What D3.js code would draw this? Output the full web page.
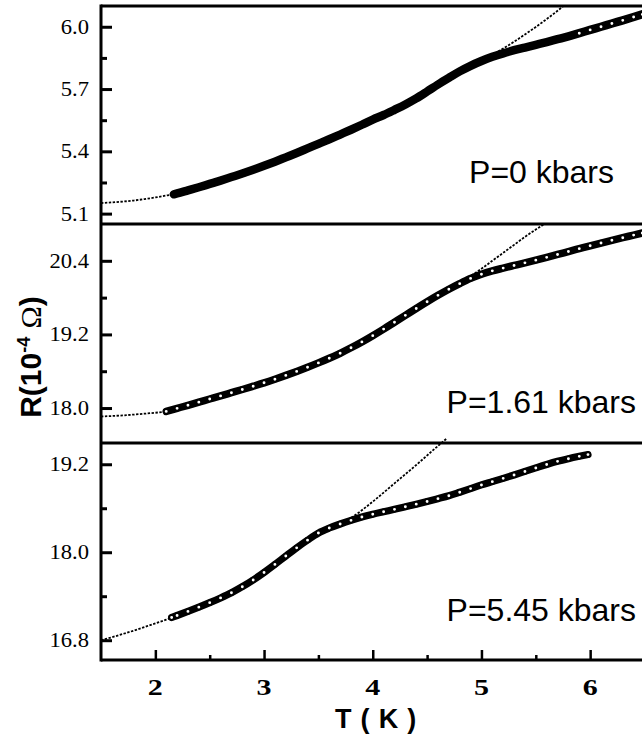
<!DOCTYPE html>
<html><head><meta charset="utf-8">
<script src="https://cdn.jsdelivr.net/npm/d3@7"></script>
<style>body{margin:0;background:#fff}svg{display:block}</style>
</head><body><svg id="c" width="642" height="739"></svg>
<script>
// ---------------- data ----------------
const xDomain = [1.5, 6.5];
const xMajor = [2, 3, 4, 5, 6];
const xMinor = [2.5, 3.5, 4.5, 5.5];

const panelLabels = ["P=0 kbars", "P=1.61 kbars", "P=5.45 kbars"];

// P = 0 kbars
const domTop = [5.05, 6.1];
const yMajorTop = [5.1, 5.4, 5.7, 6.0];
const yMinorTop = [5.25, 5.55, 5.85];
const dataTop = [[2.17,5.193],[2.2,5.197],[2.3,5.212],[2.4,5.227],[2.5,5.243],[2.6,5.259],[2.7,5.276],[2.8,5.293],[2.9,5.311],[3.0,5.330],[3.1,5.350],[3.2,5.371],[3.3,5.392],[3.4,5.414],[3.5,5.436],[3.6,5.458],[3.7,5.481],[3.8,5.504],[3.9,5.528],[4.0,5.553],[4.1,5.575],[4.2,5.600],[4.3,5.626],[4.4,5.655],[4.5,5.688],[4.6,5.722],[4.7,5.754],[4.8,5.785],[4.9,5.812],[5.0,5.835],[5.1,5.855],[5.2,5.872],[5.3,5.887],[5.4,5.900],[5.5,5.913],[5.6,5.926],[5.7,5.940],[5.8,5.954],[5.9,5.969],[6.0,5.985],[6.1,6.000],[6.2,6.016],[6.3,6.031],[6.4,6.047],[6.48,6.060]];
const fitTop = [[1.5,5.151],[1.6,5.154],[1.7,5.158],[1.8,5.163],[1.9,5.170],[2.0,5.178],[2.1,5.187],[2.2,5.197],[2.5,5.243],[3.0,5.330],[3.5,5.436],[4.0,5.553],[4.5,5.688],[4.8,5.785],[5.0,5.838],[5.1,5.864],[5.2,5.895],[5.3,5.928],[5.4,5.963],[5.5,5.999],[5.6,6.037],[5.7,6.077],[5.75,6.098]];

// P = 1.61 kbars
const domMid = [17.43, 21.0];
const yMajorMid = [18.0, 19.2, 20.4];
const yMinorMid = [18.6, 19.8];
const dataMid = [[2.1,17.945],[2.2,17.995],[2.3,18.045],[2.4,18.096],[2.5,18.147],[2.6,18.198],[2.7,18.250],[2.8,18.302],[2.9,18.356],[3.0,18.411],[3.1,18.470],[3.2,18.532],[3.3,18.597],[3.4,18.665],[3.5,18.736],[3.6,18.811],[3.7,18.893],[3.8,18.982],[3.9,19.078],[4.0,19.180],[4.1,19.287],[4.2,19.399],[4.3,19.511],[4.4,19.623],[4.5,19.732],[4.6,19.837],[4.7,19.936],[4.8,20.028],[4.9,20.113],[5.0,20.182],[5.1,20.236],[5.2,20.281],[5.3,20.324],[5.4,20.367],[5.5,20.411],[5.6,20.456],[5.7,20.503],[5.8,20.551],[5.9,20.598],[6.0,20.645],[6.1,20.690],[6.2,20.734],[6.3,20.777],[6.4,20.819],[6.48,20.853]];
const fitMid = [[1.5,17.862],[1.7,17.880],[1.9,17.908],[2.1,17.945],[2.5,18.147],[3.0,18.411],[3.5,18.736],[4.0,19.180],[4.5,19.732],[4.8,20.040],[4.9,20.150],[5.0,20.270],[5.1,20.400],[5.2,20.530],[5.3,20.660],[5.4,20.790],[5.5,20.910],[5.57,20.990]];

// P = 5.45 kbars
const domBot = [16.53, 19.49];
const yMajorBot = [16.8, 18.0, 19.2];
const yMinorBot = [17.4, 18.6];
const dataBot = [[2.15,17.110],[2.2,17.137],[2.3,17.193],[2.4,17.251],[2.5,17.312],[2.6,17.377],[2.7,17.448],[2.8,17.530],[2.9,17.622],[3.0,17.724],[3.1,17.834],[3.2,17.948],[3.3,18.060],[3.4,18.165],[3.5,18.262],[3.6,18.330],[3.7,18.385],[3.8,18.435],[3.9,18.480],[4.0,18.518],[4.1,18.552],[4.2,18.585],[4.3,18.620],[4.4,18.656],[4.5,18.693],[4.6,18.731],[4.7,18.770],[4.8,18.818],[4.9,18.868],[5.0,18.918],[5.1,18.963],[5.2,19.008],[5.3,19.054],[5.4,19.102],[5.5,19.150],[5.6,19.197],[5.7,19.240],[5.8,19.276],[5.9,19.308],[5.98,19.332]];
const fitBot = [[1.5,16.80],[1.6,16.84],[1.7,16.885],[1.8,16.93],[1.9,16.98],[2.0,17.03],[2.1,17.08],[2.2,17.137],[2.5,17.312],[2.8,17.530],[3.0,17.724],[3.2,17.948],[3.4,18.165],[3.6,18.330],[3.8,18.47],[4.0,18.69],[4.2,18.94],[4.4,19.19],[4.6,19.45],[4.68,19.55]];

// ---------------- drawing ----------------
const SERIF = "'Liberation Serif', 'Times New Roman', serif";
const SANS = "'Liberation Sans', Arial, sans-serif";
const svg = d3.select("#c");
const X0 = 101, X1 = 644.5;
const x = d3.scaleLinear().domain(xDomain).range([X0, X1]);

const panels = [
  {data: dataTop, fit: fitTop, dom: domTop, range: [224, 6], major: yMajorTop, minor: yMinorTop, label: panelLabels[0], lx: 614, ly: 183, band: 8.5, solidUntil: 5.85},
  {data: dataMid, fit: fitMid, dom: domMid, range: [443, 224], major: yMajorMid, minor: yMinorMid, label: panelLabels[1], lx: 636, ly: 413, band: 7.5, solidUntil: 0},
  {data: dataBot, fit: fitBot, dom: domBot, range: [660, 443], major: yMajorBot, minor: yMinorBot, label: panelLabels[2], lx: 636, ly: 621, band: 7.2, solidUntil: 0}
];

const fmt = d3.format(".1f");

panels.forEach(p => {
  const y = d3.scaleLinear().domain(p.dom).range(p.range);
  const g = svg.append("g");
  const line = d3.line().x(d => x(d[0])).y(d => y(d[1])).curve(d3.curveMonotoneX);

  // fit (dotted)
  g.append("path").attr("d", line(p.fit)).attr("fill", "none")
    .attr("stroke", "#000").attr("stroke-width", 1.8).attr("stroke-dasharray", "2.4,1.5");

  // dense data band
  g.append("path").attr("d", line(p.data)).attr("fill", "none")
    .attr("stroke", "#000").attr("stroke-width", p.band).attr("stroke-linecap", "round");
  g.selectAll("circle").data(p.data).join("circle")
    .attr("cx", d => x(d[0])).attr("cy", d => y(d[1])).attr("r", 2.3)
    .attr("fill", d => d[0] < p.solidUntil ? "#000" : "#fff")
    .attr("stroke", "#000").attr("stroke-width", 1.7);

  // y ticks (inward)
  const gt = g.append("g").attr("transform", `translate(${X0},0)`)
    .call(d3.axisRight(y).tickValues(p.major).tickSize(11).tickFormat(""));
  const gm = g.append("g").attr("transform", `translate(${X0},0)`)
    .call(d3.axisRight(y).tickValues(p.minor).tickSize(6).tickFormat(""));
  [gt, gm].forEach(a => { a.select(".domain").remove(); a.selectAll("line").attr("stroke", "#000").attr("stroke-width", 3); });

  // y tick labels
  g.selectAll("text.yl").data(p.major).join("text").attr("class", "yl")
    .attr("transform", d => `translate(89,${y(d) + 7}) scale(1.13,1)`)
    .attr("text-anchor", "end").style("font-family", SERIF)
    .attr("font-size", 20).attr("fill", "#000").text(d => fmt(d));

  // panel label
  g.append("text").attr("x", p.lx).attr("y", p.ly).attr("text-anchor", "end")
    .style("font-family", SANS).attr("font-size", 32)
    .attr("fill", "#000").text(p.label);
});

// frame
const frame = svg.append("g").attr("stroke", "#000").attr("stroke-width", 3);
[6, 224, 443, 660].forEach(yy => frame.append("line").attr("x1", X0).attr("x2", 645).attr("y1", yy).attr("y2", yy));
frame.append("line").attr("x1", X0).attr("x2", X0).attr("y1", 4.5).attr("y2", 661.5);

// x ticks (inward, pointing up)
const ax = svg.append("g").attr("transform", "translate(0,660)")
  .call(d3.axisTop(x).tickValues(xMajor).tickSize(10).tickFormat(""));
const axm = svg.append("g").attr("transform", "translate(0,660)")
  .call(d3.axisTop(x).tickValues(xMinor).tickSize(5).tickFormat(""));
[ax, axm].forEach(a => { a.select(".domain").remove(); a.selectAll("line").attr("stroke", "#000").attr("stroke-width", 2.5); });

svg.selectAll("text.xl").data(xMajor).join("text").attr("class", "xl")
  .attr("transform", d => `translate(${x(d)},695) scale(1.25,1)`)
  .attr("text-anchor", "middle").style("font-family", SERIF)
  .attr("font-weight", "bold").attr("font-size", 24).attr("fill", "#000").text(d => d);

// axis titles
svg.append("text").attr("x", 376).attr("y", 728).attr("text-anchor", "middle")
  .style("font-family", SANS).attr("font-weight", "bold")
  .attr("font-size", 27).attr("letter-spacing", 0.8).attr("fill", "#000").text("T ( K )");

const yt = svg.append("text").attr("transform", "translate(41,357) rotate(-90)")
  .attr("text-anchor", "middle").style("font-family", SANS)
  .attr("font-weight", "bold").attr("font-size", 30).attr("fill", "#000");
yt.append("tspan").text("R(10");
yt.append("tspan").attr("dy", -11).attr("font-size", 18).text("-4");
yt.append("tspan").attr("dy", 11).text(" ");
yt.append("tspan").style("font-family", SERIF).attr("font-weight", "normal").text("Ω");
yt.append("tspan").text(")");
</script></body></html>
